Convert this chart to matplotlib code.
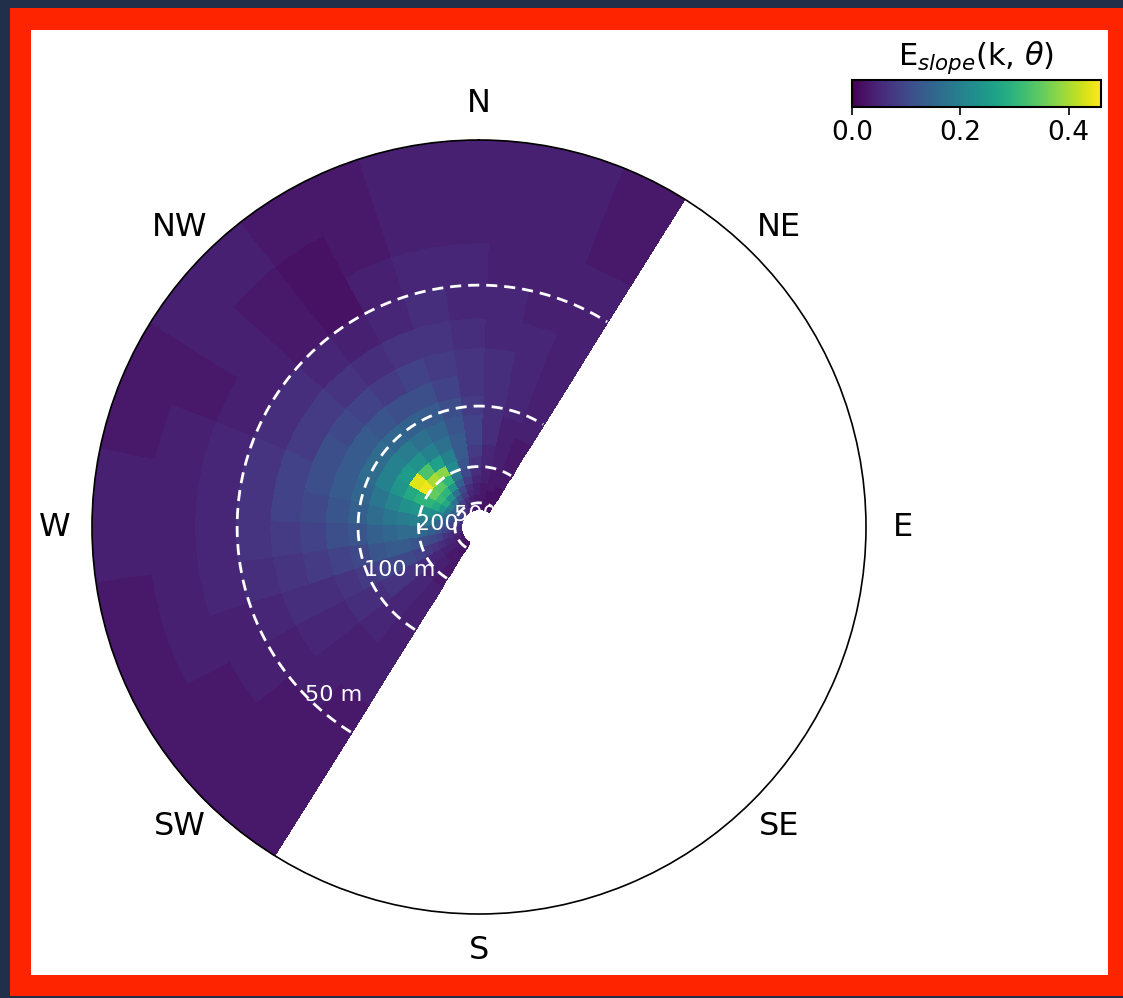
import numpy as np
import matplotlib
matplotlib.use("Agg")
import matplotlib.pyplot as plt
from matplotlib.patches import Rectangle

# Wavenumber grid (cycles per metre) and direction bins (nautical bearing, degrees)
k_min, k_max = 0.00149, 0.032
n_k = 20
dir_edges_deg = np.arange(212, 393, 10)   # 18 sectors: SW -> W -> N -> NNE

# Slope spectrum E_slope(k, theta); rows = wavenumber bins (inner -> outer),
# columns = direction sectors centred on 217, 227, ..., 387 (=27) degrees
E_slope = np.array([
    [0.02, 0.02, 0.03, 0.03, 0.04, 0.05, 0.06, 0.07, 0.08, 0.08, 0.07, 0.05, 0.04, 0.03, 0.03, 0.02, 0.02, 0.02],
    [0.02, 0.02, 0.03, 0.04, 0.05, 0.06, 0.07, 0.08, 0.09, 0.10, 0.08, 0.06, 0.04, 0.03, 0.03, 0.02, 0.02, 0.02],
    [0.02, 0.03, 0.03, 0.04, 0.05, 0.07, 0.08, 0.10, 0.11, 0.12, 0.10, 0.07, 0.05, 0.04, 0.03, 0.02, 0.02, 0.02],
    [0.02, 0.03, 0.04, 0.05, 0.06, 0.08, 0.10, 0.12, 0.14, 0.15, 0.13, 0.09, 0.06, 0.04, 0.03, 0.03, 0.02, 0.02],
    [0.03, 0.03, 0.04, 0.05, 0.07, 0.10, 0.12, 0.15, 0.18, 0.20, 0.17, 0.12, 0.08, 0.05, 0.04, 0.03, 0.02, 0.02],
    [0.03, 0.03, 0.04, 0.06, 0.09, 0.12, 0.15, 0.19, 0.24, 0.28, 0.24, 0.17, 0.10, 0.06, 0.04, 0.03, 0.03, 0.02],
    [0.03, 0.04, 0.05, 0.07, 0.10, 0.14, 0.18, 0.22, 0.28, 0.31, 0.30, 0.24, 0.14, 0.08, 0.05, 0.04, 0.03, 0.03],
    [0.03, 0.04, 0.05, 0.08, 0.11, 0.15, 0.19, 0.24, 0.30, 0.35, 0.34, 0.30, 0.18, 0.10, 0.06, 0.04, 0.03, 0.03],
    [0.03, 0.04, 0.06, 0.09, 0.12, 0.16, 0.20, 0.24, 0.30, 0.45, 0.40, 0.38, 0.22, 0.12, 0.07, 0.05, 0.04, 0.03],
    [0.04, 0.05, 0.07, 0.10, 0.13, 0.16, 0.19, 0.23, 0.28, 0.44, 0.33, 0.26, 0.20, 0.13, 0.08, 0.05, 0.04, 0.03],
    [0.04, 0.05, 0.07, 0.10, 0.13, 0.15, 0.18, 0.21, 0.24, 0.25, 0.23, 0.20, 0.17, 0.13, 0.09, 0.06, 0.04, 0.03],
    [0.04, 0.05, 0.07, 0.09, 0.12, 0.14, 0.16, 0.18, 0.20, 0.20, 0.19, 0.17, 0.15, 0.12, 0.09, 0.06, 0.04, 0.04],
    [0.04, 0.05, 0.06, 0.08, 0.10, 0.12, 0.14, 0.15, 0.16, 0.16, 0.15, 0.14, 0.13, 0.11, 0.08, 0.06, 0.05, 0.04],
    [0.04, 0.05, 0.06, 0.07, 0.09, 0.11, 0.12, 0.13, 0.13, 0.13, 0.12, 0.11, 0.11, 0.09, 0.07, 0.06, 0.05, 0.04],
    [0.04, 0.04, 0.05, 0.06, 0.08, 0.09, 0.10, 0.11, 0.11, 0.10, 0.09, 0.08, 0.09, 0.08, 0.07, 0.06, 0.05, 0.04],
    [0.04, 0.04, 0.05, 0.06, 0.07, 0.08, 0.09, 0.09, 0.08, 0.08, 0.07, 0.06, 0.07, 0.07, 0.06, 0.05, 0.05, 0.04],
    [0.03, 0.04, 0.04, 0.05, 0.06, 0.07, 0.07, 0.07, 0.06, 0.06, 0.05, 0.04, 0.05, 0.06, 0.05, 0.05, 0.04, 0.04],
    [0.03, 0.03, 0.04, 0.04, 0.05, 0.05, 0.05, 0.05, 0.04, 0.04, 0.03, 0.02, 0.04, 0.05, 0.05, 0.04, 0.04, 0.04],
    [0.03, 0.03, 0.03, 0.04, 0.04, 0.04, 0.04, 0.04, 0.03, 0.04, 0.03, 0.02, 0.03, 0.04, 0.04, 0.04, 0.04, 0.03],
    [0.03, 0.03, 0.03, 0.03, 0.03, 0.04, 0.04, 0.03, 0.03, 0.04, 0.04, 0.03, 0.03, 0.04, 0.04, 0.04, 0.04, 0.03],
])

# Reference wavelength circles and the bearing at which each is annotated
wavelengths_m = [50, 100, 200, 500]
label_bearings = [225, 247.5, 270, 292.5]

compass_labels = ['N', 'NE', 'E', 'SE', 'S', 'SW', 'W', 'NW']
cbar_ticks = [0.0, 0.2, 0.4]
vmax = 0.46

W, H = 1123, 998
fig = plt.figure(figsize=(W / 100, H / 100), dpi=100, facecolor='#212f4b')

# Framed panel: red border around a white card, kept behind the axes
fig.patches.append(Rectangle((10 / W, 2 / H), 1113 / W, 988 / H, transform=fig.transFigure,
                             facecolor='#ff2400', edgecolor='none', zorder=-20))
fig.patches.append(Rectangle((31 / W, 23 / H), 1077 / W, 945 / H, transform=fig.transFigure,
                             facecolor='white', edgecolor='none', zorder=-19))

ax = fig.add_axes([92 / W, 84 / H, 774 / W, 774 / H], projection='polar')
ax.set_theta_zero_location('N')
ax.set_theta_direction(-1)
ax.set_facecolor('white')

# Subdivide each direction sector so the outer arcs stay round
sub = 6
k_edges = np.geomspace(k_min, k_max, n_k + 1)
fine_dir = np.linspace(dir_edges_deg[0], dir_edges_deg[-1], (len(dir_edges_deg) - 1) * sub + 1)
T, K = np.meshgrid(np.deg2rad(fine_dir), k_edges)
mesh = ax.pcolormesh(T, K, np.repeat(E_slope, sub, axis=1), cmap='viridis',
                     vmin=0, vmax=vmax, shading='flat', edgecolors='face', linewidth=0.4)

# Dashed wavelength circles over the sampled sector
th = np.deg2rad(np.linspace(dir_edges_deg[0], dir_edges_deg[-1], 500))
for lam, b in zip(wavelengths_m, label_bearings):
    ax.plot(th, np.full_like(th, 1.0 / lam), color='white', lw=2, ls=(0, (4, 2.5)))
    ax.annotate(f'{lam} m', xy=(np.deg2rad(b), 1.0 / lam), xytext=(-2, -2),
                textcoords='offset points', color='white', fontsize=16,
                ha='left', va='baseline')

ax.set_ylim(0, k_max)
ax.set_yticks([])
ax.grid(False)
ax.set_xticks(np.deg2rad(np.arange(0, 360, 45)))
ax.set_xticklabels(compass_labels, fontsize=23)
ax.tick_params(axis='x', pad=16)
ax.spines['polar'].set_linewidth(1.2)

# Horizontal colour bar in the upper-right corner
cax = fig.add_axes([852 / W, (H - 107) / H, 249 / W, 27 / H])
cb = fig.colorbar(mesh, cax=cax, orientation='horizontal', ticks=cbar_ticks)
cb.set_label(r'E$_{slope}$(k, $\theta$)', fontsize=22, labelpad=11)
cax.xaxis.set_label_position('top')
cb.ax.tick_params(labelsize=19, length=6, width=1.2)
cb.outline.set_linewidth(1.5)

fig.savefig('out.png', dpi=100, facecolor=fig.get_facecolor())
